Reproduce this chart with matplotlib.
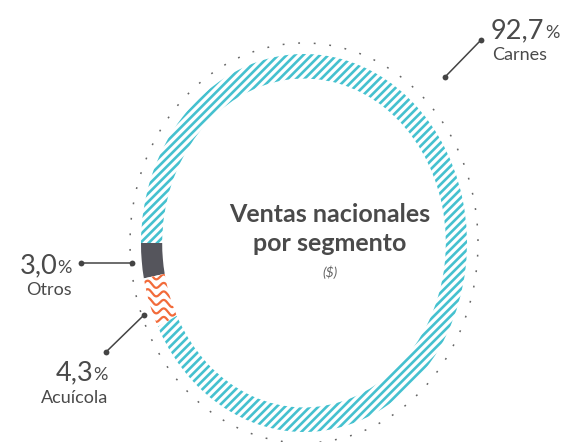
import numpy as np
import matplotlib
matplotlib.use("Agg")
import matplotlib.pyplot as plt
from matplotlib.patches import Ellipse

# ---- data ----
segments = ["Otros", "Acuícola", "Carnes"]
values = [3.0, 4.3, 92.7]
value_labels = ["3,0", "4,3", "92,7"]
center_title = "Ventas nacionales\npor segmento"
center_sub = "($)"

TEAL = "#45c1cf"
DARK = "#55555c"
ORANGE = "#f26b3a"
TXT = "#4a4a4a"
FONT = "Lato"

plt.rcParams["hatch.linewidth"] = 1.9

W, H = 567, 442
fig = plt.figure(figsize=(W / 100, H / 100), dpi=100)

# donut axes: ring bbox in pixels (ellipse)
cx, cy, rx, ry = 304, 243, 163, 189
L = 1.2
axd = fig.add_axes([(cx - rx * L) / W, (H - cy - ry * L) / H, 2 * rx * L / W, 2 * ry * L / H])
wedges, _ = axd.pie(values, startangle=180, counterclock=True, radius=1.0,
                    wedgeprops=dict(width=0.13, linewidth=0))
axd.set_aspect("auto")
axd.set_xlim(-L, L)
axd.set_ylim(-L, L)
axd.axis("off")

styles = {"Otros": dict(facecolor=DARK, edgecolor=DARK, hatch=None),
          "Acuícola": dict(facecolor="white", edgecolor="white", hatch=None),
          "Carnes": dict(facecolor="white", edgecolor=TEAL, hatch="////")}
for w, name in zip(wedges, segments):
    st = styles[name]
    w.set_facecolor(st["facecolor"])
    w.set_edgecolor(st["edgecolor"])
    w.set_linewidth(0)
    if st["hatch"]:
        w.set_hatch(st["hatch"])

# wavy orange lines clipped to Acuícola wedge
aw = wedges[segments.index("Acuícola")]
xs = np.linspace(-1.2, -0.5, 400)
for y0 in np.arange(-0.75, 0.0, 8.5 / ry):
    ys = y0 + (3.0 / ry) * np.sin(xs / (16 / rx) * 2 * np.pi) - 0.12 * (xs + 1)
    ln, = axd.plot(xs, ys, color=ORANGE, lw=1.6, solid_capstyle="round")
    ln.set_clip_path(aw)

# dotted outer ring
axd.add_patch(Ellipse((0, 0), 2 * (1 + 11 / rx), 2 * (1 + 11 / ry), fill=False,
                      edgecolor="#666666", lw=1.1, linestyle=(0, (1.2, 9))))

# overlay axes in pixel coordinates
ax = fig.add_axes([0, 0, 1, 1])
ax.set_xlim(0, W)
ax.set_ylim(H, 0)
ax.axis("off")

# leader lines
leaders = {"Carnes": [(445, 77), (481, 40)],
           "Otros": [(132, 263), (81, 263)],
           "Acuícola": [(144, 315), (106, 352)]}
for name, pts in leaders.items():
    (x0, y0), (x1, y1) = pts
    ax.plot([x0, x1], [y0, y1], color="#444444", lw=1.1,
            marker="o", markersize=4.2, markerfacecolor="#444444", markeredgewidth=0)

fig.canvas.draw()
r = fig.canvas.get_renderer()

def label(name, num, x, y_num, y_name, align):
    if align == "left":
        t = ax.text(x, y_num, num, fontsize=19.5, color=TXT, family=FONT, ha="left", va="baseline")
        bb = t.get_window_extent(renderer=r)
        ax.text(x + bb.width + 0.5, y_num, "%", fontsize=13, color=TXT, family=FONT, ha="left", va="baseline")
        ax.text(x + 1, y_name, name, fontsize=13, color=TXT, family=FONT, ha="left", va="baseline")
    else:
        p = ax.text(x, y_num, "%", fontsize=13, color=TXT, family=FONT, ha="right", va="baseline")
        bb = p.get_window_extent(renderer=r)
        ax.text(x - bb.width - 0.5, y_num, num, fontsize=19.5, color=TXT, family=FONT, ha="right", va="baseline")
        ax.text(x, y_name, name, fontsize=13, color=TXT, family=FONT, ha="right", va="baseline")

label("Carnes", value_labels[2], 491, 38, 60, "left")
label("Otros", value_labels[0], 72, 273, 295, "right")
label("Acuícola", value_labels[1], 108, 380, 403, "right")

ax.text(330, 222, center_title.split("\n")[0], fontsize=18, fontweight="bold", color=TXT,
        family=FONT, ha="center", va="baseline")
ax.text(330, 251, center_title.split("\n")[1], fontsize=18, fontweight="bold", color=TXT,
        family=FONT, ha="center", va="baseline")
ax.text(330, 272, center_sub, fontsize=10, style="italic", color="#666666",
        family=FONT, ha="center", va="center")

fig.savefig("out.png", dpi=100)
